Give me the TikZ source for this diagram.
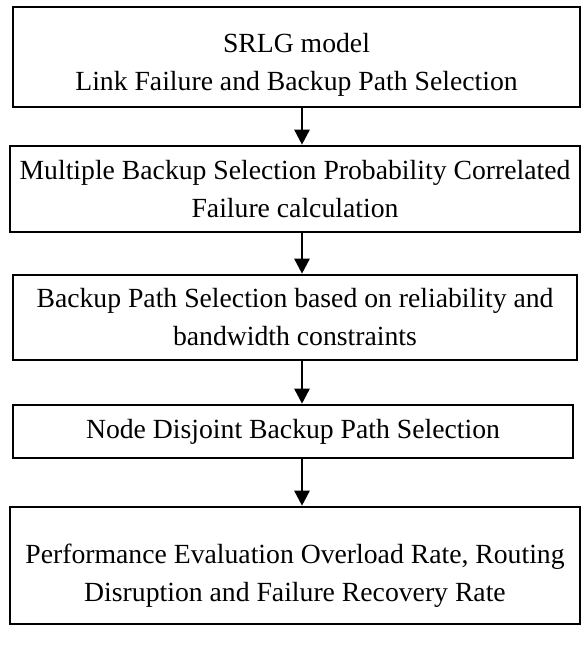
\documentclass[tikz,border=0pt]{standalone}
\usepackage{fontspec}
\setmainfont{Liberation Serif}
\usetikzlibrary{arrows.meta}

\begin{document}
\begin{tikzpicture}[x=1pt,y=-1pt,
    stepbox/.style={draw, line width=2.6pt, align=center, inner sep=0pt,
        font=\fontsize{27.7}{38}\selectfont},
    flow/.style={-{Triangle[length=15pt,width=15pt]}, line width=2.6pt}]
    \useasboundingbox (0,0) rectangle (581,668);

    % Step boxes, top to bottom
    \node[stepbox, minimum width=567pt, minimum height=100pt]
        (srlg) at (296.5,57) {\rule{0pt}{34pt}SRLG model\\Link Failure and Backup Path Selection};
    \node[stepbox, minimum width=570pt, minimum height=86pt]
        (prob) at (295,189) {Multiple Backup Selection Probability Correlated\\Failure calculation};
    \node[stepbox, minimum width=564pt, minimum height=85pt]
        (bwsel) at (295,317.5) {Backup Path Selection based on reliability and\\bandwidth constraints};
    \node[stepbox, minimum width=560pt, minimum height=53pt]
        (nodedis) at (293,431.5) {Node Disjoint Backup Path Selection};
    \node[stepbox, minimum width=570pt, minimum height=117pt]
        (perf) at (295,565.5) {\rule{0pt}{39pt}Performance Evaluation Overload Rate, Routing\\Disruption and Failure Recovery Rate};

    % Arrows between the steps, all on one vertical
    \coordinate (arrowx) at (302,0);
    \draw[flow] (srlg.south -| arrowx) -- (prob.north -| arrowx);
    \draw[flow] (prob.south -| arrowx) -- (bwsel.north -| arrowx);
    \draw[flow] (bwsel.south -| arrowx) -- (nodedis.north -| arrowx);
    \draw[flow] (nodedis.south -| arrowx) -- (perf.north -| arrowx);
\end{tikzpicture}
\end{document}
